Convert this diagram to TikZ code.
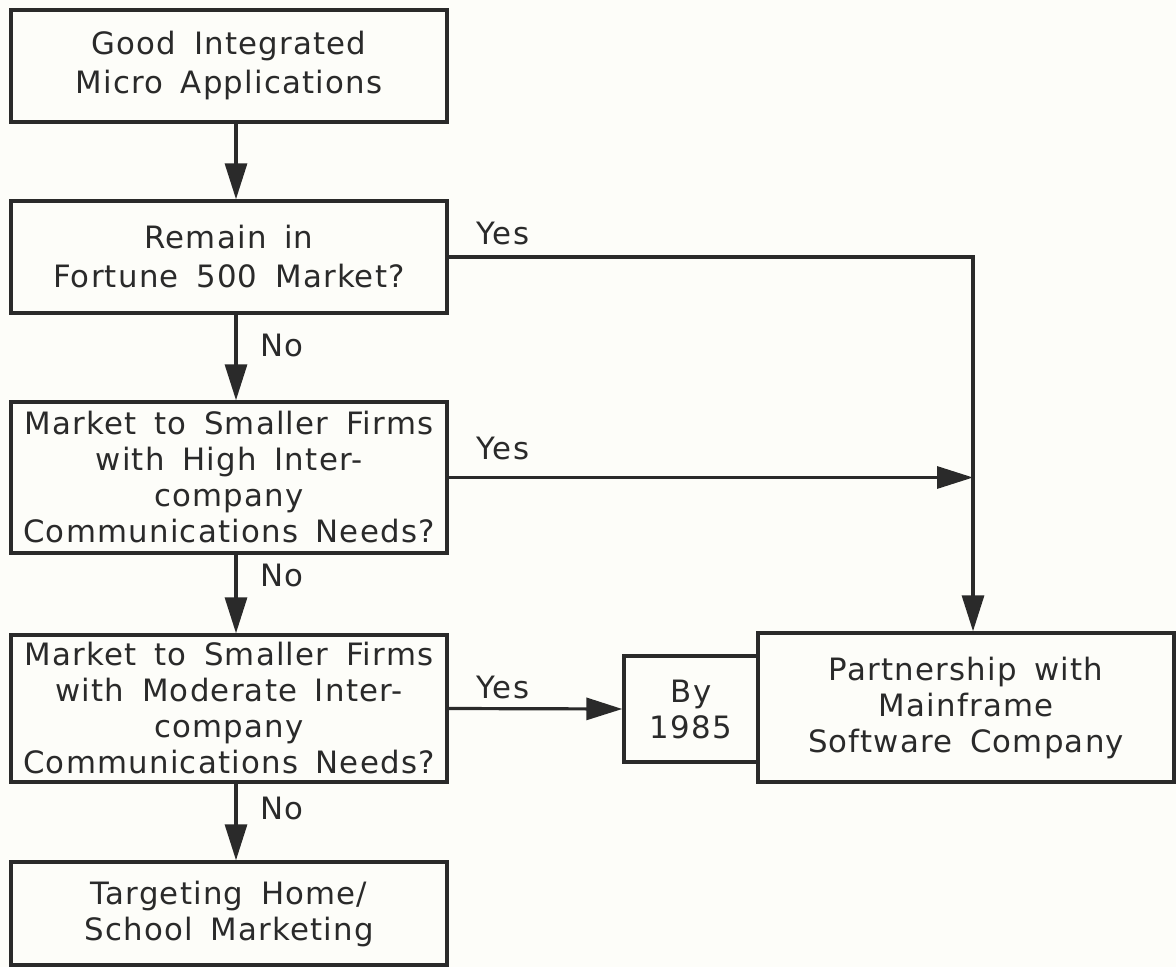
\documentclass[tikz,border=0pt]{standalone}
\usepackage{fontspec}
\setmainfont{DejaVu Sans}[LetterSpace=4.0,WordSpace=1.6]
\usepackage{tikz}
\usetikzlibrary{arrows.meta,positioning}

\definecolor{ink}{HTML}{2A2A2A}
\definecolor{paper}{HTML}{FDFDF9}

\begin{document}
\begin{tikzpicture}[x=0.5pt, y=-0.5pt,
  every node/.style={font=\fontsize{15.4}{18}\selectfont, text=ink, align=center},
  box/.style={draw=ink, fill=paper, line width=1.7pt, inner sep=0pt},
  arr/.style={draw=ink, line width=1.6pt, -{Triangle[length=18pt,width=11pt]}},
  lbl/.style={inner sep=0pt}]
  \fill[paper] (0,0) rectangle (1176,967);
  \useasboundingbox (0,0) rectangle (1176,967);

  % Applications
  \node[box, minimum width=218pt, minimum height=56pt,
        font=\fontsize{15.4}{19.5}\selectfont] (micro) at (229,66)
    {Good Integrated\\Micro Applications};

  % Fortune 500
  \node[box, minimum width=218pt, minimum height=56pt,
        font=\fontsize{15.4}{19.5}\selectfont] (fortune) at (229,257)
    {Remain in\\Fortune 500 Market?};

  % Smaller firms, high needs
  \node[box, minimum width=218pt, minimum height=75.5pt] (high) at (229,477.5)
    {Market to Smaller Firms\\with High Inter-\\company\\Communications Needs?};

  % Smaller firms, moderate needs
  \node[box, minimum width=218pt, minimum height=73.5pt] (moderate) at (229,708.5)
    {Market to Smaller Firms\\with Moderate Inter-\\company\\Communications Needs?};

  % Home / school
  \node[box, minimum width=218pt, minimum height=51.5pt] (home) at (229,913.5)
    {Targeting Home/\\School Marketing};

  % Date tab and partnership
  \node[box, minimum width=67pt, minimum height=53pt] (by) at (691,709)
    {By\\1985};
  \node[box, minimum width=208pt, minimum height=74.5pt] (partner) at (966,707.5)
    {Partnership with\\Mainframe\\Software Company};

  \coordinate (join) at ([xshift=3.5pt]partner.north |- high.east);

  % Main line
  \draw[arr] ([xshift=3.5pt]micro.south) -- ([xshift=3.5pt]fortune.north);
  \draw[arr] ([xshift=3.5pt]fortune.south) -- ([xshift=3.5pt]high.north);
  \draw[arr] ([xshift=3.5pt]high.south) -- ([xshift=3.5pt]moderate.north);
  \draw[arr] ([xshift=3.5pt]moderate.south) -- ([xshift=3.5pt]home.north);

  % Yes branches
  \draw[arr] (fortune.east) -| ([xshift=3.5pt]partner.north);
  \draw[arr] (high.east) -- (join);
  \draw[arr] (moderate.east) -- (by.west);

  % Labels
  \node[lbl] (yes1) at (503,233) {Yes};
  \node[lbl] (yes2) at (503,448) {Yes};
  \node[lbl] (yes3) at (503,687) {Yes};
  \node[lbl] (no1) at (282,345) {No};
  \node[lbl] (no2) at (282,575) {No};
  \node[lbl] (no3) at (282,808) {No};
\end{tikzpicture}
\end{document}
